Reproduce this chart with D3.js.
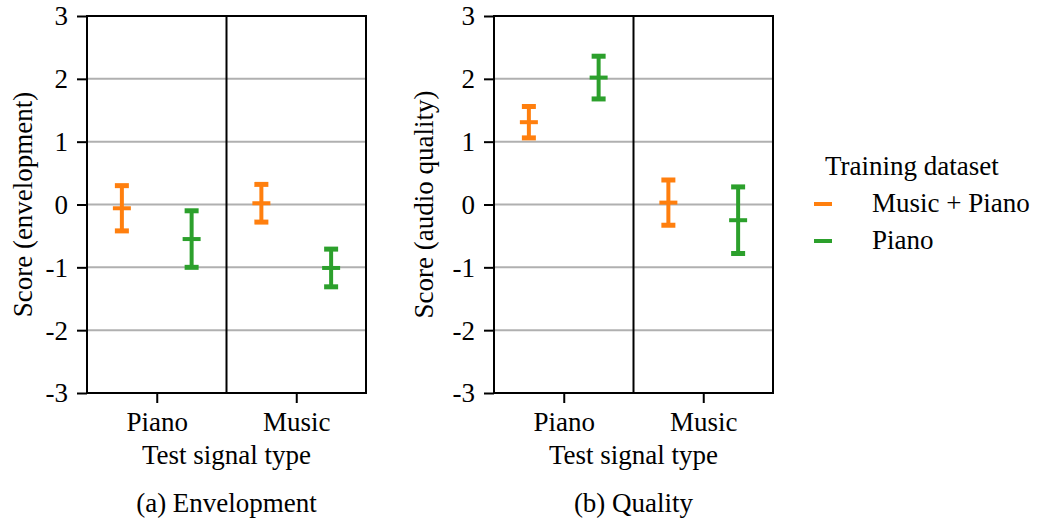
<!DOCTYPE html>
<html>
<head>
<meta charset="utf-8">
<script src="https://cdn.jsdelivr.net/npm/d3@7"></script>
<style>
  html, body { margin: 0; padding: 0; background: #fff; }
  svg { display: block; }
</style>
</head>
<body>
<svg id="chart" width="1048" height="523"></svg>
<script>
// Test signal categories and training datasets
const categories = ["Piano", "Music"];
const seriesNames = ["Music + Piano", "Piano"];
const seriesColors = ["#ff7f0e", "#2ca02c"];
const yTicks = [-3, -2, -1, 0, 1, 2, 3];

// Envelopment: mean score and confidence half-width per [category][series]
const envelopmentMean = [[-0.06, -0.55], [0.02, -1.01]];
const envelopmentCI   = [[0.36, 0.45], [0.30, 0.30]];

// Audio quality: mean score and confidence half-width per [category][series]
const qualityMean = [[1.31, 2.02], [0.03, -0.25]];
const qualityCI   = [[0.25, 0.34], [0.36, 0.53]];

const panels = [
  { left: 87, ylabel: "Score (envelopment)", caption: "(a) Envelopment",
    mean: envelopmentMean, ci: envelopmentCI, labelX: 32 },
  { left: 494, ylabel: "Score (audio quality)", caption: "(b) Quality",
    mean: qualityMean, ci: qualityCI, labelX: 433 }
];

const svg = d3.select("#chart");
const plotW = 279, plotTop = 16, plotBottom = 393;
const FONT = "Nimbus Roman";
const FS = 27;

// shared text styling
function styleText(sel) {
  return sel.attr("font-family", FONT).attr("font-size", FS).attr("fill", "#000");
}

const y = d3.scaleLinear().domain([-3, 3]).range([plotBottom, plotTop]);
const offsets = [-0.25, 0.25];

panels.forEach(p => {
  const x = d3.scaleLinear().domain([-0.5, 1.5]).range([p.left, p.left + plotW]);
  const g = svg.append("g");

  // horizontal grid
  g.append("g").selectAll("line").data(yTicks).join("line")
    .attr("x1", x(-0.5)).attr("x2", x(1.5))
    .attr("y1", d => y(d)).attr("y2", d => y(d))
    .attr("stroke", "#b0b0b0").attr("stroke-width", 2);

  // category separator
  g.append("line")
    .attr("x1", x(0.5)).attr("x2", x(0.5))
    .attr("y1", y(3)).attr("y2", y(-3))
    .attr("stroke", "#000").attr("stroke-width", 2);

  // y axis
  const yAxis = d3.axisLeft(y).tickValues(yTicks).tickSize(10).tickPadding(9)
    .tickFormat(d => String(d));
  const ya = g.append("g").attr("transform", `translate(${x(-0.5)},0)`).call(yAxis);
  ya.attr("font-family", FONT).attr("font-size", FS);
  ya.select(".domain").remove();
  ya.selectAll(".tick line").attr("stroke", "#000").attr("stroke-width", 2);
  styleText(ya.selectAll(".tick text")).attr("dy", "0.33em");

  // x axis
  const xAxis = d3.axisBottom(x).tickValues([0, 1]).tickSize(10).tickPadding(10)
    .tickFormat(i => categories[i]);
  const xa = g.append("g").attr("transform", `translate(0,${plotBottom})`).call(xAxis);
  xa.attr("font-family", FONT).attr("font-size", FS);
  xa.select(".domain").remove();
  xa.selectAll(".tick line").attr("stroke", "#000").attr("stroke-width", 2);
  styleText(xa.selectAll(".tick text")).attr("dy", null).attr("y", 38);

  // frame
  g.append("rect")
    .attr("x", x(-0.5)).attr("y", y(3))
    .attr("width", x(1.5) - x(-0.5)).attr("height", y(-3) - y(3))
    .attr("fill", "none").attr("stroke", "#000").attr("stroke-width", 2);

  // error bars
  const pts = [];
  categories.forEach((c, ci) => seriesNames.forEach((s, si) => {
    pts.push({ cx: x(ci + offsets[si]), m: p.mean[ci][si], e: p.ci[ci][si], color: seriesColors[si] });
  }));
  const eb = g.append("g").selectAll("g").data(pts).join("g");
  eb.append("line")
    .attr("x1", d => d.cx).attr("x2", d => d.cx)
    .attr("y1", d => y(d.m + d.e)).attr("y2", d => y(d.m - d.e))
    .attr("stroke", d => d.color).attr("stroke-width", 4);
  [1, -1].forEach(sgn => {
    eb.append("line")
      .attr("x1", d => d.cx - 7).attr("x2", d => d.cx + 7)
      .attr("y1", d => y(d.m + sgn * d.e)).attr("y2", d => y(d.m + sgn * d.e))
      .attr("stroke", d => d.color).attr("stroke-width", 5);
  });
  eb.append("line")
    .attr("x1", d => d.cx - 9).attr("x2", d => d.cx + 9)
    .attr("y1", d => y(d.m)).attr("y2", d => y(d.m))
    .attr("stroke", d => d.color).attr("stroke-width", 4);

  // axis titles and caption
  const cxMid = x(0.5);
  styleText(g.append("text")).attr("x", cxMid).attr("y", 464).attr("text-anchor", "middle")
    .text("Test signal type");
  styleText(g.append("text")).attr("x", cxMid).attr("y", 512).attr("text-anchor", "middle")
    .text(p.caption);
  styleText(g.append("text"))
    .attr("transform", `translate(${p.labelX},${(plotTop + plotBottom) / 2}) rotate(-90)`)
    .attr("text-anchor", "middle").text(p.ylabel);
});

// legend
const lg = svg.append("g");
styleText(lg.append("text")).attr("x", 825).attr("y", 175).text("Training dataset");
const items = lg.selectAll("g.item").data(seriesNames).join("g").attr("class", "item")
  .attr("transform", (d, i) => `translate(0,${204 + i * 37})`);
items.append("line").attr("x1", 814).attr("x2", 832).attr("y1", 0).attr("y2", 0)
  .attr("stroke", (d, i) => seriesColors[i]).attr("stroke-width", 4);
styleText(items.append("text")).attr("x", 872).attr("y", 8).text(d => d);
</script>
</body>
</html>
